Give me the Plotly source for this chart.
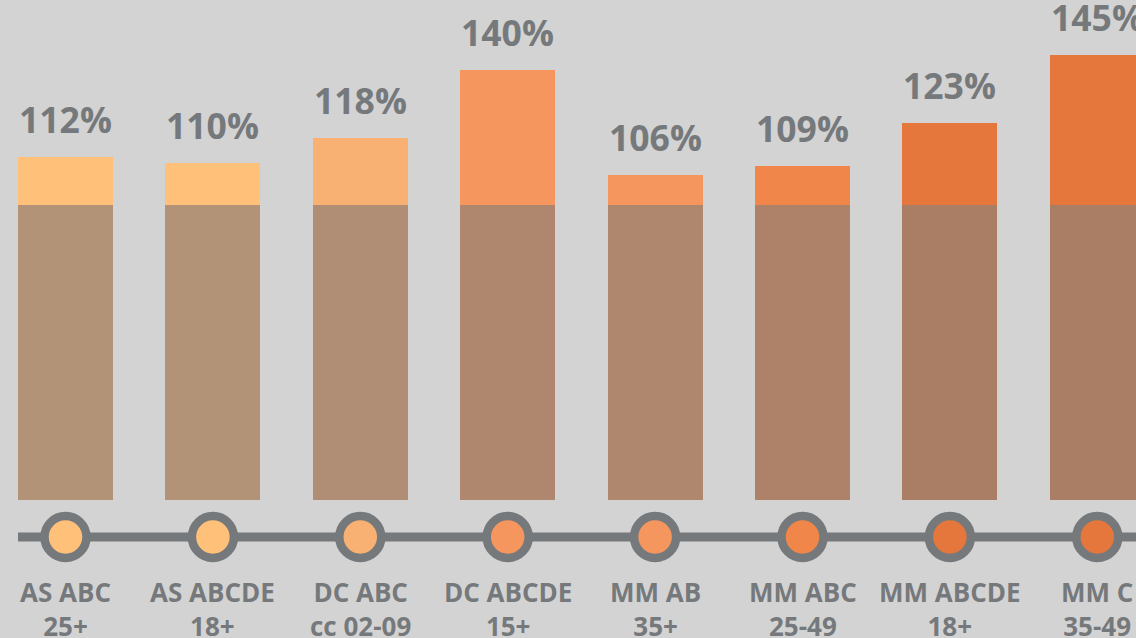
import plotly.graph_objects as go

# ---- data ----
categories = ["AS ABC<br>25+", "AS ABCDE<br>18+", "DC ABC<br>cc 02-09", "DC ABCDE<br>15+",
              "MM AB<br>35+", "MM ABC<br>25-49", "MM ABCDE<br>18+", "MM C<br>35-49"]
values = [112, 110, 118, 140, 106, 109, 123, 145]
value_labels = ["112%", "110%", "118%", "140%", "106%", "109%", "123%", "145%"]
base_level = [96.4] * 8

# ---- styles ----
bar_colors = ["#FFC07A", "#FFC07A", "#F9B073", "#F5965F", "#F5965F", "#F08649", "#E5773C", "#E5773C"]
overlay_color = "rgba(146,128,118,0.70)"
bg = "#D3D3D3"
text_gray = "#76797B"
line_gray = "#76797B"
LINE_LEVEL = -11
BAR_FLOOR = 1.1
BAR_W = 0.645

x = list(range(len(categories)))

fig = go.Figure()
fig.add_trace(go.Bar(x=x, y=[v - BAR_FLOOR for v in values], base=BAR_FLOOR, width=BAR_W,
                     marker=dict(color=bar_colors, line=dict(width=0)),
                     opacity=1, hoverinfo="skip", showlegend=False))
fig.add_trace(go.Bar(x=x, y=[b - BAR_FLOOR for b in base_level], base=BAR_FLOOR, width=BAR_W,
                     marker=dict(color=overlay_color, line=dict(width=0)),
                     opacity=1, hoverinfo="skip", showlegend=False))

# timeline line
fig.add_shape(type="line", xref="x", yref="y", x0=-BAR_W / 2, x1=len(categories) + 1,
              y0=LINE_LEVEL, y1=LINE_LEVEL, line=dict(color=line_gray, width=9), layer="below")

# circles
fig.add_trace(go.Scatter(x=x, y=[LINE_LEVEL] * len(x), mode="markers",
                         marker=dict(size=42, color=bar_colors, line=dict(color=line_gray, width=8.5)),
                         hoverinfo="skip", showlegend=False, cliponaxis=False))

font_family = "Open Sans"
for i, (v, lab) in enumerate(zip(values, value_labels)):
    fig.add_annotation(x=i, y=v, text=lab, showarrow=False, yanchor="bottom", yshift=12,
                       font=dict(family=font_family, size=35.5, color=text_gray, weight="bold"))
for i, c in enumerate(categories):
    fig.add_annotation(x=i, y=LINE_LEVEL, text=c, showarrow=False, yanchor="top", yshift=-35,
                       font=dict(family=font_family, size=26, color=text_gray, weight="bold"))

fig.update_layout(
    width=1136, height=638,
    margin=dict(l=0, r=0, t=0, b=0),
    paper_bgcolor=bg, plot_bgcolor=bg,
    barmode="overlay", bargap=0,
    xaxis=dict(range=[-0.4444, 7.2626], visible=False, fixedrange=True),
    yaxis=dict(range=[-43.69, 162.78], visible=False, fixedrange=True),
    showlegend=False,
)

fig.write_html("out.html", config={"displayModeBar": False},
               post_script="document.body.style.margin='0';document.body.style.background='#D3D3D3';")
